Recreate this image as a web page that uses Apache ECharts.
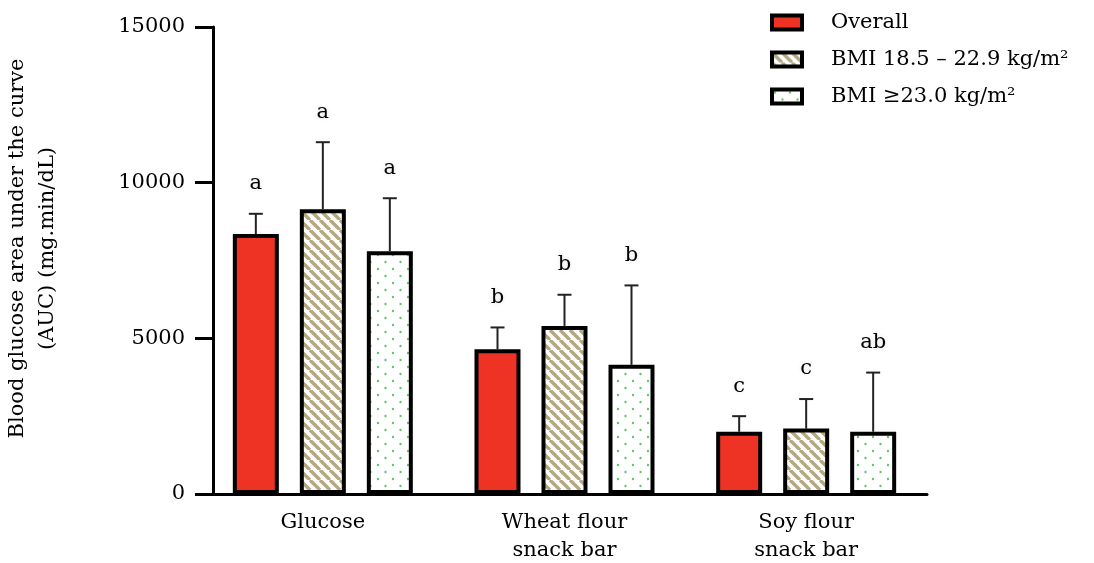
<!DOCTYPE html>
<html>
<head>
<meta charset="utf-8">
<script src="https://cdn.jsdelivr.net/npm/echarts@6/dist/echarts.min.js"></script>
<style>html,body{margin:0;padding:0;background:#fff;}#c{width:1094px;height:563px;}</style>
</head>
<body>
<div id="c"></div>
<script>
const categories = ['Glucose', 'Wheat flour\nsnack bar', 'Soy flour\nsnack bar'];
const seriesNames = ['Overall', 'BMI 18.5 – 22.9 kg/m²', 'BMI ≥23.0 kg/m²'];
const overallMean = [8350, 4650, 2000];
const overallErr = [650, 700, 500];
const bmiLowMean = [9150, 5400, 2100];
const bmiLowErr = [2150, 1000, 950];
const bmiHighMean = [7800, 4150, 2000];
const bmiHighErr = [1700, 2550, 1900];
const overallLetters = ['a', 'b', 'c'];
const bmiLowLetters = ['a', 'b', 'c'];
const bmiHighLetters = ['a', 'b', 'ab'];
const yTicks = [0, 5000, 10000, 15000];

const FONT = '"DejaVu Serif", serif';

function stripeCanvas() {
  const s = 10;
  const c = document.createElement('canvas');
  c.width = s; c.height = s;
  const g = c.getContext('2d');
  g.fillStyle = '#ffffff'; g.fillRect(0, 0, s, s);
  g.strokeStyle = '#b5a880'; g.lineWidth = 3.4;
  for (const x0 of [-s, 0, s]) {
    g.beginPath(); g.moveTo(x0, 0); g.lineTo(x0 + s, s); g.stroke();
  }
  return c;
}
function dotCanvas() {
  const w = 15, h = 14;
  const c = document.createElement('canvas');
  c.width = w; c.height = h;
  const g = c.getContext('2d');
  g.fillStyle = '#ffffff'; g.fillRect(0, 0, w, h);
  g.fillStyle = '#5cc868';
  [[3, 3], [10.5, 10]].forEach(p => { g.beginPath(); g.arc(p[0], p[1], 1.2, 0, Math.PI * 2); g.fill(); });
  return c;
}

const fills = [
  '#ee3325',
  { image: stripeCanvas(), repeat: 'repeat' },
  { image: dotCanvas(), repeat: 'repeat' }
];
const means = [overallMean, bmiLowMean, bmiHighMean];
const errs = [overallErr, bmiLowErr, bmiHighErr];
const letters = [overallLetters, bmiLowLetters, bmiHighLetters];

const BAR_W = 46, STEP = 67;
const BAR_GAP = (STEP - BAR_W) / BAR_W;

const series = [];
means.forEach((m, i) => {
  series.push({
    name: seriesNames[i], type: 'bar', data: m,
    barWidth: BAR_W, barGap: (BAR_GAP * 100) + '%',
    itemStyle: { color: fills[i], borderColor: '#000', borderWidth: 4 },
    z: 3
  });
});
means.forEach((m, i) => {
  const offset = (i - 1) * STEP;
  series.push({
    name: 'err' + i, type: 'custom', z: 2,
    data: m.map((v, k) => [k, v, errs[i][k]]),
    renderItem: function (params, api) {
      const k = api.value(0);
      const x = api.coord([k, 0])[0] + offset;
      const yb = api.coord([k, api.value(1)])[1];
      const yt = api.coord([k, api.value(1) + api.value(2)])[1];
      const lt = letters[i][params.dataIndex];
      return {
        type: 'group',
        children: [
          { type: 'line', shape: { x1: x, y1: yb, x2: x, y2: yt }, style: { stroke: '#222', lineWidth: 2 } },
          { type: 'line', shape: { x1: x - 7, y1: yt, x2: x + 7, y2: yt }, style: { stroke: '#222', lineWidth: 2 } },
          { type: 'text', style: { text: lt, x: x, y: yt - 30, align: 'center', verticalAlign: 'middle',
            fontSize: 21, fontFamily: FONT, fill: '#000', textShadowColor: 'rgba(0,0,0,0.12)', textShadowBlur: 4 } }
        ]
      };
    }
  });
});

const chart = echarts.init(document.getElementById('c'), null, { renderer: 'canvas' });
chart.setOption({
  animation: false,
  backgroundColor: '#fff',
  textStyle: { fontFamily: FONT },
  grid: { left: 202, right: 167, top: 27, bottom: 69, containLabel: false, outerBoundsMode: 'none' },
  legend: {
    data: seriesNames, orient: 'vertical', left: 770, top: 12, padding: 0,
    itemWidth: 30, itemHeight: 14, itemGap: 16, icon: 'rect',
    itemStyle: { borderColor: '#000', borderWidth: 4 },
    textStyle: { fontFamily: FONT, fontSize: 21, color: '#000', padding: [0, 0, 0, 24] }
  },
  xAxis: {
    type: 'category', data: categories,
    axisLine: { lineStyle: { color: '#000', width: 3 } },
    axisTick: { show: false },
    axisLabel: { fontFamily: FONT, fontSize: 21, color: '#000', margin: 15, lineHeight: 28 }
  },
  yAxis: {
    type: 'value', min: 0, max: 15000, interval: 5000, offset: -11,
    name: 'Blood glucose area under the curve\n(AUC) (mg.min/dL)',
    nameLocation: 'middle', nameGap: 180, nameRotate: 90, nameMoveOverlap: false,
    nameTextStyle: { fontFamily: FONT, fontSize: 21, color: '#000', lineHeight: 30, align: 'center', verticalAlign: 'middle', padding: [0, 0, 0, 24] },
    axisLine: { show: true, lineStyle: { color: '#000', width: 3 } },
    axisTick: { show: true, inside: false, length: 18, lineStyle: { color: '#000', width: 3 } },
    axisLabel: { fontFamily: FONT, fontSize: 21, color: '#000', margin: 28,
      formatter: v => (yTicks.indexOf(v) >= 0 ? String(v) : '') },
    splitLine: { show: false }
  },
  series: series
});
</script>
</body>
</html>
